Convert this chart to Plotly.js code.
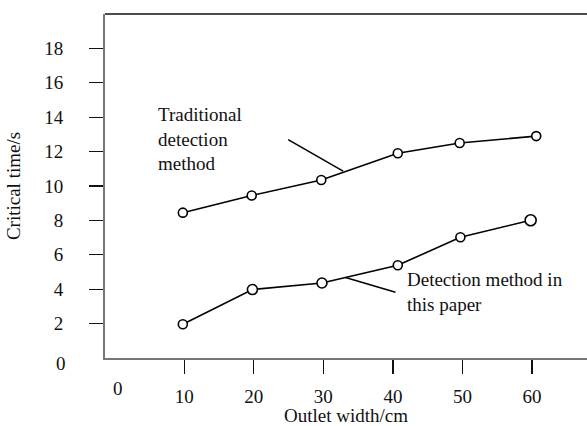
<!DOCTYPE html>
<html>
<head>
<meta charset="utf-8">
<script src="https://cdn.plot.ly/plotly-3.0.1.min.js"></script>
<style>html,body{margin:0;padding:0;background:#fff;}#chart{width:587px;height:426px;}</style>
</head>
<body>
<div id="chart"></div>
<script>
// Data
const tradX = [9.8, 19.7, 29.7, 40.7, 49.6, 60.6];
const tradY = [8.45, 9.45, 10.35, 11.9, 12.5, 12.9];
const detX = [9.8, 19.8, 29.8, 40.7, 49.7, 59.8];
const detY = [1.96, 3.98, 4.36, 5.39, 7.02, 8.01];
const xTicks = [10, 20, 30, 40, 50, 60];
const yTicks = [2, 4, 6, 8, 10, 12, 14, 16, 18];
const tradLabel = "Traditional<br>detection<br>method";
const detLabel = "Detection method in<br>this paper";
const xTitle = "Outlet width/cm";
const yTitle = "Critical time/s";

const FONT = "Liberation Serif";

const lineStyle = {color: "#000", width: 1.6};
const markerStyle = {symbol: "circle", size: 9, opacity: 1, color: "#fff", line: {color: "#000", width: 1.6}};

const traces = [
  {x: tradX, y: tradY, mode: "lines+markers", line: lineStyle, marker: markerStyle, showlegend: false, cliponaxis: false},
  {x: detX, y: detY, mode: "lines+markers", line: lineStyle,
   marker: {symbol: "circle", size: [9, 10, 10, 9, 9, 11], opacity: 1, color: "#fff", line: {color: "#000", width: 1.6}},
   showlegend: false, cliponaxis: false}
];

const layout = {
  width: 587, height: 426,
  margin: {l: 105, r: 0, t: 14, b: 68},
  paper_bgcolor: "#fff", plot_bgcolor: "#fff",
  font: {family: FONT, size: 19, color: "#111"},
  xaxis: {
    range: [-1.39, 67.9], tickvals: xTicks, ticktext: xTicks.map(String),
    showgrid: false, zeroline: false, showline: true, linecolor: "#777", linewidth: 2,
    ticks: "outside", ticklen: 14, tickwidth: 1.2, tickcolor: "#111", ticklabelstandoff: 6,
    tickfont: {family: FONT, size: 19, color: "#111"},
    title: {text: xTitle, font: {family: FONT, size: 19, color: "#111"}, standoff: 0}
  },
  yaxis: {
    range: [0, 20], tickvals: yTicks, ticktext: yTicks.map(String),
    showgrid: false, zeroline: false, showline: true, linecolor: "#777", linewidth: 2,
    ticks: "outside", ticklen: 14, tickwidth: 1.2, tickcolor: "#111", ticklabelstandoff: 22,
    tickfont: {family: FONT, size: 19, color: "#111"},
    title: {text: yTitle, font: {family: FONT, size: 19, color: "#111"}, standoff: 19}
  },
  shapes: [
    {type: "line", xref: "paper", yref: "paper", x0: 0, x1: 1, y0: 1, y1: 1, line: {color: "#111", width: 1.5}},
    {type: "line", xref: "x", yref: "y", x0: 24.94, y0: 12.70, x1: 32.84, y1: 10.86, line: {color: "#000", width: 1.5}},
    {type: "line", xref: "x", yref: "y", x0: 33.19, y0: 4.68, x1: 40.37, y1: 3.82, line: {color: "#000", width: 1.5}}
  ],
  annotations: [
    {x: 5.93, y: 12.72, xref: "x", yref: "y", text: tradLabel, showarrow: false, xanchor: "left", yanchor: "middle", align: "left",
     font: {family: FONT, size: 19, color: "#111"}},
    {x: 41.7, y: 3.85, xref: "x", yref: "y", text: detLabel, showarrow: false, xanchor: "left", yanchor: "middle", align: "left",
     font: {family: FONT, size: 19, color: "#111"}},
    {x: 0, y: 0, xref: "x", yref: "paper", text: "0", showarrow: false, xanchor: "center", yanchor: "middle", yshift: -30,
     xshift: 3, font: {family: FONT, size: 19, color: "#111"}},
    {x: 0, y: 0, xref: "paper", yref: "y", text: "0", showarrow: false, xanchor: "right", yanchor: "middle", xshift: -37, yshift: -5,
     font: {family: FONT, size: 19, color: "#111"}}
  ]
};

Plotly.newPlot("chart", traces, layout, {staticPlot: true, displayModeBar: false});
</script>
</body>
</html>
